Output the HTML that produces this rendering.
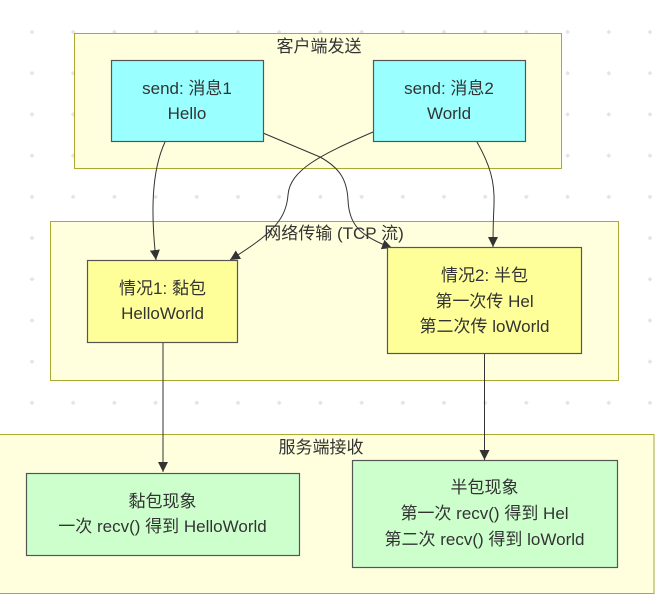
<!DOCTYPE html>
<html>
<head>
<meta charset="utf-8">
<style>
  html, body { margin: 0; padding: 0; background: #ffffff; }
  svg { display: block; }
  text { font-family: "Liberation Sans", "Noto Sans CJK SC", sans-serif; font-size: 17px; fill: #333333; text-anchor: middle; }
</style>
</head>
<body>
<svg width="661" height="604" viewBox="0 0 661 604" xmlns="http://www.w3.org/2000/svg">
  <defs>
    <pattern id="dots" x="0" y="0" width="41.2" height="41.2" patternUnits="userSpaceOnUse">
      <path d="M32,29.6 L34.4,32 L32,34.4 L29.6,32 Z" fill="#e4e4e4"/>
    </pattern>
    <marker id="arr" markerWidth="10" markerHeight="10" refX="10" refY="5" orient="auto" markerUnits="userSpaceOnUse">
      <path d="M0,0 L10,5 L0,10 Z" fill="#333333"/>
    </marker>
  </defs>

  <rect x="0" y="0" width="661" height="604" fill="url(#dots)"/>

  <!-- Clusters -->
  <rect x="74.5" y="33.5" width="487" height="135" fill="#ffffde" stroke="#aaaa33" stroke-width="1"/>
  <text x="319" y="52">客户端发送</text>

  <rect x="50.5" y="221.5" width="568" height="159" fill="#ffffde" stroke="#aaaa33" stroke-width="1"/>
  <text x="334" y="239">网络传输 (TCP 流)</text>

  <rect x="-10" y="434.5" width="664" height="159" fill="#ffffde" stroke="#aaaa33" stroke-width="1"/>
  <text x="321" y="453">服务端接收</text>

  <!-- Edges -->
  <path d="M165,142 C151,172 151,215 156,260" fill="none" stroke="#333" stroke-width="1" marker-end="url(#arr)"/>
  <path d="M263,133 L320,157 C340,168 347,180 348,200 C349,225 360,236 392,248" fill="none" stroke="#333" stroke-width="1" marker-end="url(#arr)"/>
  <path d="M373,132 C320,155 290,170 288,195 C286,222 268,236 230,260" fill="none" stroke="#333" stroke-width="1" marker-end="url(#arr)"/>
  <path d="M477,142 C490,165 495,182 494,205 C493,225 493,238 493,247" fill="none" stroke="#333" stroke-width="1" marker-end="url(#arr)"/>
  <path d="M163,342 L163,472" fill="none" stroke="#333" stroke-width="1" marker-end="url(#arr)"/>
  <path d="M484.5,354 L484.5,460" fill="none" stroke="#333" stroke-width="1" marker-end="url(#arr)"/>

  <!-- Client nodes -->
  <rect x="111.5" y="60.5" width="152" height="81" fill="#99ffff" stroke="#555" stroke-width="1.2"/>
  <text x="187" y="94">send: 消息1</text>
  <text x="187" y="119">Hello</text>

  <rect x="373.5" y="60.5" width="152" height="81" fill="#99ffff" stroke="#555" stroke-width="1.2"/>
  <text x="449" y="94">send: 消息2</text>
  <text x="449" y="119">World</text>

  <!-- Network nodes -->
  <rect x="87.5" y="260.5" width="150" height="82" fill="#ffff99" stroke="#555" stroke-width="1.2"/>
  <text x="162.5" y="294">情况1: 黏包</text>
  <text x="162.5" y="319">HelloWorld</text>

  <rect x="387.5" y="247.5" width="194" height="106" fill="#ffff99" stroke="#555" stroke-width="1.2"/>
  <text x="484.5" y="281">情况2: 半包</text>
  <text x="484.5" y="307">第一次传 Hel</text>
  <text x="484.5" y="332">第二次传 loWorld</text>

  <!-- Server nodes -->
  <rect x="26.5" y="473.5" width="273" height="82" fill="#ccffcc" stroke="#555" stroke-width="1.2"/>
  <text x="162.5" y="507">黏包现象</text>
  <text x="162.5" y="532">一次 recv() 得到 HelloWorld</text>

  <rect x="352.5" y="460.5" width="265" height="107" fill="#ccffcc" stroke="#555" stroke-width="1.2"/>
  <text x="484.5" y="493">半包现象</text>
  <text x="484.5" y="519">第一次 recv() 得到 Hel</text>
  <text x="484.5" y="545">第二次 recv() 得到 loWorld</text>
</svg>
</body>
</html>
